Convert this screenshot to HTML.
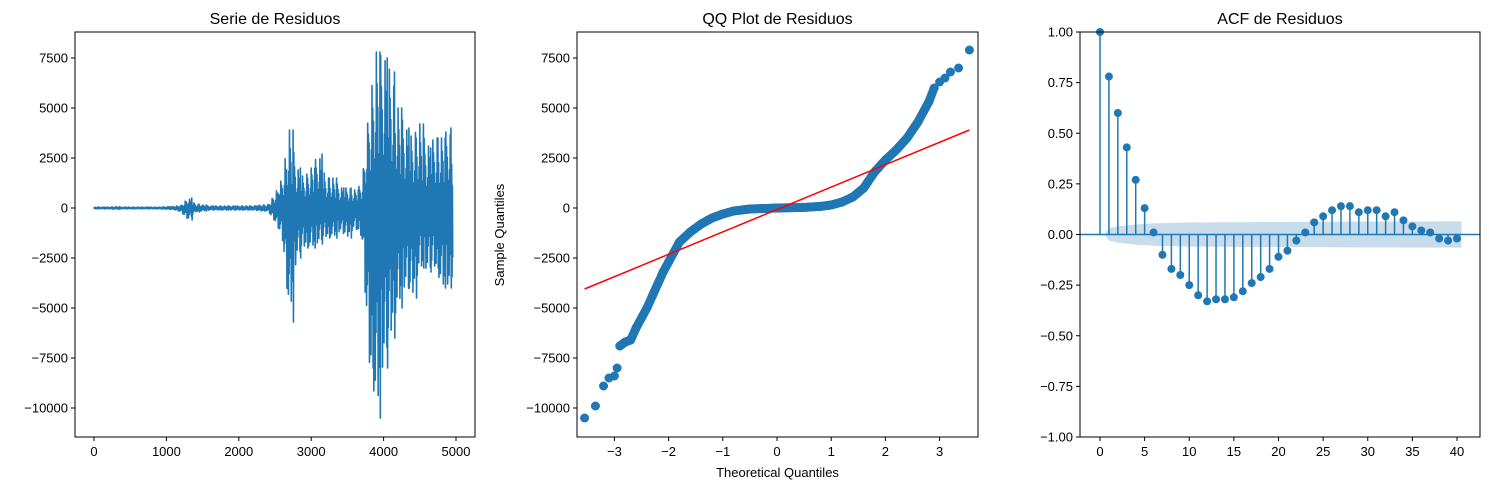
<!DOCTYPE html>
<html><head><meta charset="utf-8"><style>
body{margin:0;background:#fff;}
svg{display:block;font-family:"Liberation Sans","DejaVu Sans",sans-serif;}
</style></head><body>
<svg id="fig" width="1489" height="490" viewBox="0 0 1489 490" xmlns="http://www.w3.org/2000/svg"></svg>
<script>
// ---- Data: residual series envelope (per 100-index bin) ----
const resBins = [0,100,200,300,400,500,600,700,800,900,1000,1100,1200,1300,1400,1500,1600,1700,1800,1900,2000,2100,2200,2300,2400,2500,2600,2700,2800,2900,3000,3100,3200,3300,3400,3500,3600,3700,3800,3900,4000,4100,4200,4300,4400,4500,4600,4700,4800,4900,4960];
const resUpper = [40,40,40,60,40,40,40,40,40,40,60,80,120,500,200,150,100,100,100,100,100,100,100,150,150,700,1500,3900,2000,1500,2000,2700,1500,1500,1000,1000,900,1200,5000,7800,7500,6800,5000,4000,3500,4200,3000,3500,3500,4000,3000];
const resLower = [-40,-40,-40,-60,-40,-40,-40,-40,-40,-40,-60,-80,-200,-600,-200,-150,-100,-100,-100,-100,-100,-100,-100,-150,-150,-700,-1500,-5700,-2500,-2000,-2000,-1800,-1500,-1500,-1200,-1500,-1000,-1500,-8000,-10500,-8000,-6500,-5000,-4000,-4500,-3000,-3200,-3000,-4000,-4000,-3500];
const resXTicks = [0,1000,2000,3000,4000,5000];
const resYTicks = [7500,5000,2500,0,-2500,-5000,-7500,-10000];
// ---- Data: QQ plot ----
const qqTheo = [-3.55,-3.35,-3.2,-3.1,-3.0,-2.95,-2.9,-2.8,-2.7,-2.6,-2.5,-2.4,-2.3,-2.2,-2.1,-2.0,-1.9,-1.8,-1.6,-1.4,-1.2,-1.0,-0.8,-0.5,0,0.5,0.8,1.0,1.2,1.4,1.6,1.8,2.0,2.2,2.4,2.6,2.8,2.9,3.0,3.1,3.2,3.35,3.55];
const qqSample = [-10500,-9900,-8900,-8500,-8400,-8000,-6900,-6700,-6600,-6000,-5500,-5000,-4400,-3800,-3200,-2700,-2200,-1700,-1200,-800,-500,-300,-150,-50,0,30,80,150,300,550,1000,1800,2400,2900,3500,4300,5300,6000,6300,6500,6800,7000,7900];
const qqLineX = [-3.55,3.55];
const qqLineY = [-4050,3900];
const qqXTicks = [-3,-2,-1,0,1,2,3];
// ---- Data: ACF ----
const acfVals = [1,0.78,0.60,0.43,0.27,0.13,0.01,-0.10,-0.17,-0.20,-0.25,-0.30,-0.33,-0.32,-0.32,-0.31,-0.28,-0.24,-0.21,-0.17,-0.11,-0.08,-0.03,0.01,0.06,0.09,0.12,0.14,0.14,0.11,0.12,0.12,0.09,0.11,0.07,0.04,0.02,0.01,-0.02,-0.03,-0.02];
const acfBandLag = [0.5,1,2,4,6,10,20,30,40,40.5];
const acfBandHalf = [0.0,0.03,0.04,0.05,0.055,0.06,0.062,0.064,0.065,0.065];
const acfXTicks = [0,5,10,15,20,25,30,35,40];
const acfYTicks = [1.00,0.75,0.50,0.25,0.00,-0.25,-0.50,-0.75,-1.00];

const NS="http://www.w3.org/2000/svg";
const svg=document.getElementById('fig');
const BLUE="#1f77b4";
function mk(tag,attrs,parent){const e=document.createElementNS(NS,tag);for(const k in attrs)e.setAttribute(k,attrs[k]);(parent||svg).appendChild(e);return e;}
function txt(s,x,y,anchor,size,parent,rot){const t=mk('text',{x:x,y:y,'text-anchor':anchor,'font-size':size,fill:'#000'},parent);if(rot)t.setAttribute('transform',`rotate(-90 ${x} ${y})`);t.textContent=s;return t;}
function lin(d0,d1,r0,r1){return v=>r0+(v-d0)*(r1-r0)/(d1-d0);}
const TOP=32,BOT=437;

function axesFrame(g,L,R){const f=mk('rect',{x:L,y:TOP,width:R-L,height:BOT-TOP,fill:'none',stroke:'#000','stroke-width':1},g);}
function xtick(g,x,label){mk('line',{x1:x,y1:BOT,x2:x,y2:BOT+4,stroke:'#000'},g);const t=txt(label,x,BOT+19,'middle',13,g);}
function ytick(g,L,y,label){mk('line',{x1:L-4,y1:y,x2:L,y2:y,stroke:'#000'},g);const t=txt(label,L-7,y+4.5,'end',13,g);}

// ---- Panel 1 ----
{
const g=mk('g',{});
const L=75,R=475;const x=lin(0,5000,94,456);const y=lin(0,7500,208,58);
const pattern=[1,0.45,0.8,0.3,0.65,0.95,0.35,0.7,0.2,0.85,0.5,0.6];
let pts=[];let c=0;
for(let i=0;i<resBins.length-1;i++){
  const n=Math.max(4,Math.round((resBins[i+1]-resBins[i])/5));
  const pk=Math.floor(n/2);
  for(let k=0;k<n;k++){const b=resBins[i]+(resBins[i+1]-resBins[i])*k/n;const f=k/n;
    let u=resUpper[i]+(resUpper[i+1]-resUpper[i])*f,l=resLower[i]+(resLower[i+1]-resLower[i])*f;
    let v;
    if(k===pk) v=resUpper[i];
    else if(k===pk+1) v=resLower[i];
    else {const a=pattern[c%pattern.length];v=(k%2?l:u)*a;}
    c++;
    pts.push(`${x(b)},${y(v)}`);}
}
const pl=mk('polyline',{points:pts.join(' '),fill:'none',stroke:BLUE,'stroke-width':1.6,'stroke-linejoin':'round'},g);

axesFrame(g,L,R);
resXTicks.forEach(v=>xtick(g,x(v),String(v)));
resYTicks.forEach(v=>ytick(g,L,y(v),String(v).replace('-','−')));
const t=txt('Serie de Residuos',(L+R)/2,24,'middle',16,g);
}
// ---- Panel 2 ----
{
const g=mk('g',{});
const L=577,R=978;const x=lin(0,1,777,831.2);const y=lin(0,7500,208,58);
function interp(t){for(let i=0;i<qqTheo.length-1;i++){if(t>=qqTheo[i]&&t<=qqTheo[i+1]){const f=(t-qqTheo[i])/(qqTheo[i+1]-qqTheo[i]);return qqSample[i]+(qqSample[i+1]-qqSample[i])*f;}}return 0;}
qqTheo.forEach((t,i)=>{const c=mk('circle',{cx:x(t),cy:y(qqSample[i]),r:4.5,fill:BLUE},g);});
for(let t=-2.9;t<=2.9;t+=0.02){const c=mk('circle',{cx:x(t),cy:y(interp(t)),r:4.5,fill:BLUE},g);}
const ln=mk('line',{x1:x(qqLineX[0]),y1:y(qqLineY[0]),x2:x(qqLineX[1]),y2:y(qqLineY[1]),stroke:'#ff0000','stroke-width':1.5},g);

axesFrame(g,L,R);
qqXTicks.forEach(v=>xtick(g,x(v),String(v).replace('-','−')));
resYTicks.forEach(v=>ytick(g,L,y(v),String(v).replace('-','−')));
let t=txt('QQ Plot de Residuos',(L+R)/2,24,'middle',16,g);
t=txt('Theoretical Quantiles',(L+R)/2,477,'middle',13,g);
t=txt('Sample Quantiles',504,235,'middle',13,g,true);
}
// ---- Panel 3 ----
{
const g=mk('g',{});
const L=1080,R=1480;const x=lin(0,40,1100,1457);const y=lin(0,1,234.5,32);
const up=acfBandLag.map((l,i)=>`${x(l)},${y(acfBandHalf[i])}`);
const lo=acfBandLag.map((l,i)=>`${x(l)},${y(-acfBandHalf[i])}`).reverse();
const band=mk('polygon',{points:up.concat(lo).join(' '),fill:BLUE,'fill-opacity':0.25},g);

mk('line',{x1:L,y1:y(0),x2:R,y2:y(0),stroke:BLUE,'stroke-width':1.5},g);
acfVals.forEach((v,i)=>{
  const s=mk('line',{x1:x(i),y1:y(0),x2:x(i),y2:y(v),stroke:BLUE,'stroke-width':1.5},g);
  
  const c=mk('circle',{cx:x(i),cy:y(v),r:4,fill:BLUE},g);
  
});
axesFrame(g,L,R);
acfXTicks.forEach(v=>xtick(g,x(v),String(v)));
acfYTicks.forEach(v=>ytick(g,L,y(v),v.toFixed(2).replace('-','−')));
const t=txt('ACF de Residuos',(L+R)/2,24,'middle',16,g);
}
</script>
</body></html>
